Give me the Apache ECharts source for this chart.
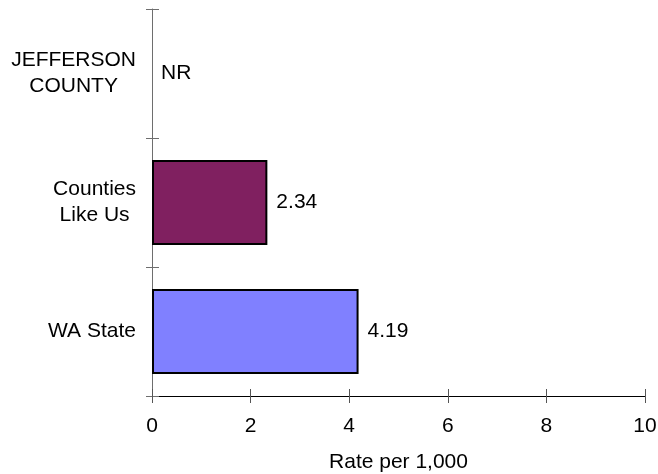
<!DOCTYPE html>
<html>
<head>
<meta charset="utf-8">
<script src="https://cdn.jsdelivr.net/npm/echarts@6/dist/echarts.min.js"></script>
<style>
html,body{margin:0;padding:0;background:#fff;}
#chart{width:658px;height:474px;}
</style>
</head>
<body>
<div id="chart"></div>
<script>
// Data (bottom to top, as the category axis draws them)
const categories = ['WA State', 'Counties Like Us', 'JEFFERSON COUNTY'];
const categoryLines = [['WA State'], ['Counties', 'Like Us'], ['JEFFERSON', 'COUNTY']];
const values = [4.19, 2.34, 0];
const valueLabels = ['4.19', '2.34', 'NR'];
const barColors = ['#8080FF', '#802060', '#FFFFFF'];
const xTicks = [0, 2, 4, 6, 8, 10];
const xAxisTitle = 'Rate per 1,000';

const FONT = 'Liberation Sans, Arial, sans-serif';
const chart = echarts.init(document.getElementById('chart'), null, {renderer: 'canvas'});

const seriesData = values.map((v, i) => ({
  value: v,
  itemStyle: {
    color: barColors[i],
    borderColor: '#000',
    borderWidth: valueLabels[i] === 'NR' ? 0 : 2
  },
  label: {formatter: valueLabels[i]}
}));

chart.setOption({
  animation: false,
  backgroundColor: '#fff',
  grid: {left: 152, right: 13, top: 9, bottom: 78, containLabel: false, outerBoundsMode: 'none'},
  xAxis: [{
    type: 'value', min: xTicks[0], max: xTicks[xTicks.length - 1], interval: 2,
    position: 'bottom',
    axisLine: {show: true, onZero: false, lineStyle: {color: '#000', width: 1}},
    axisTick: {show: true, length: 7, lineStyle: {color: '#555'}},
    splitLine: {show: false},
    axisLabel: {fontFamily: FONT, fontSize: 21, color: '#000', margin: 20},
    name: xAxisTitle, nameLocation: 'middle', nameGap: 56,
    nameTextStyle: {fontFamily: FONT, fontSize: 21, color: '#000'}
  }, {
    type: 'value', min: xTicks[0], max: xTicks[xTicks.length - 1], interval: 2,
    position: 'bottom', offset: 0,
    axisLine: {show: false, onZero: false},
    axisTick: {show: true, inside: true, length: 7, lineStyle: {color: '#555'}},
    axisLabel: {show: false}, splitLine: {show: false}
  }],
  yAxis: [{
    type: 'category', data: categories, position: 'left',
    axisLine: {show: true, onZero: false, lineStyle: {color: '#6e6e6e', width: 1}},
    axisTick: {show: true, length: 6, lineStyle: {color: '#6e6e6e'}},
    axisLabel: {
      margin: 16, align: 'right',
      formatter: (v, i) => categoryLines[i].map(l => '{c|' + l + '}').join('\n'),
      rich: {c: {fontFamily: FONT, fontSize: 21, color: '#000', align: 'center', lineHeight: 26}}
    }
  }, {
    type: 'category', data: categories, position: 'left', offset: 0,
    axisLine: {show: false, onZero: false},
    axisTick: {show: true, inside: true, length: 7, lineStyle: {color: '#6e6e6e'}},
    axisLabel: {show: false}
  }],
  series: [{
    type: 'bar', xAxisIndex: 0, yAxisIndex: 0,
    data: seriesData,
    barCategoryGap: '34%',
    label: {show: true, position: 'right', distance: 9, fontFamily: FONT, fontSize: 21, color: '#000'}
  }]
});
</script>
</body>
</html>
